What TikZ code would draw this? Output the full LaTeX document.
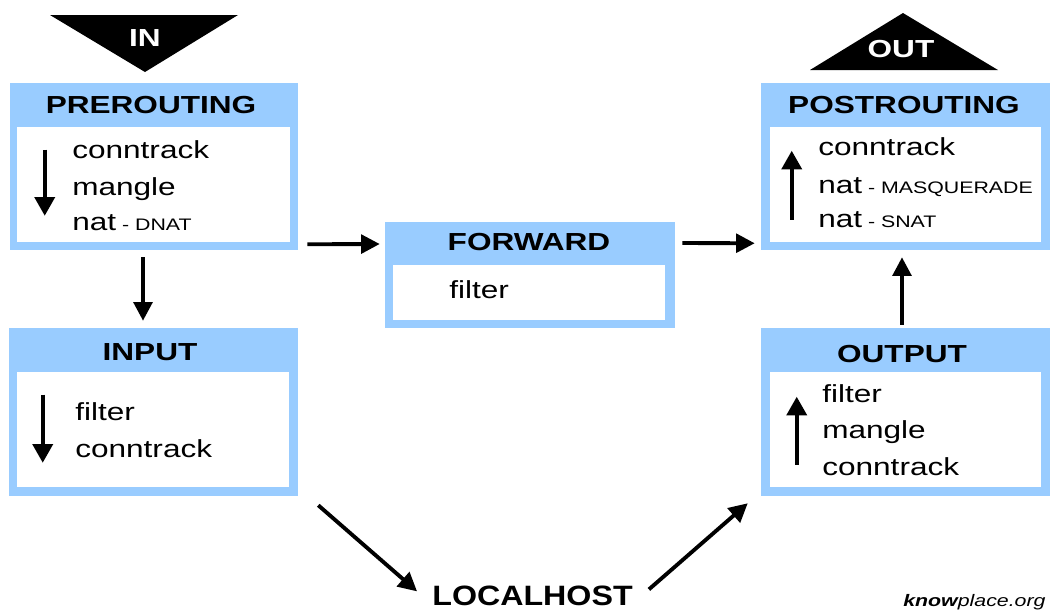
\documentclass[tikz,border=0pt]{standalone}
\usepackage{fontspec}
\setmainfont{Liberation Sans}[FakeStretch=1.28]
\newfontfamily\lhfont{Liberation Sans}[FakeStretch=1.15]
\usetikzlibrary{arrows.meta,fit,calc}
\definecolor{boxblue}{RGB}{153,204,255}
\newcommand\smtag[1]{{\fontsize{12.5}{14}\selectfont #1}}
\begin{document}
\begin{tikzpicture}[x=0.75pt,y=-0.75pt,
  outerbox/.style={fill=boxblue, inner sep=0pt, draw=none},
  innerbox/.style={fill=white, inner sep=0pt, draw=none},
  title/.style={anchor=base, inner sep=0pt, font=\bfseries\fontsize{18.5}{20}\selectfont},
  item/.style={anchor=base west, inner sep=0pt, font=\fontsize{18.5}{20}\selectfont},
  conn/.style={line width=2.9pt, -{Triangle[length=14pt,width=14pt]}},
  flowarr/.style={line width=2.8pt, -{Triangle[length=14pt,width=15pt]}},
  tri/.style={fill=black},
  trilabel/.style={text=white, inner sep=0pt, font=\bfseries\fontsize{18.5}{20}\selectfont},
]
\useasboundingbox[fill=white] (0,0) rectangle (1058,612);

% IN / OUT triangles
\fill[tri] (50,15) -- (238,15) -- (145,72) -- cycle;
\node[trilabel] (inlbl) at (145,38) {IN};
\fill[tri] (810,70) -- (998,70) -- (903,13) -- cycle;
\node[trilabel] (outlbl) at (901,49) {OUT};

% PREROUTING
\node[outerbox, fit={(10,83)(298,250)}] (pre) {};
\node[innerbox, fit={(17,127)(290,242)}] (preI) {};
\node[title] (preT) at (151,113) {PREROUTING};
\node[item] (pre1) at (72,158) {conntrack};
\node[item] (pre2) at (72,195) {mangle};
\node[item] (pre3) at (72,230) {nat\smtag{ - DNAT}};
\draw[flowarr] ($(preI.north west)+(28,23)$) coordinate (preA) -- ++(0,66) coordinate (preB);

% POSTROUTING
\node[outerbox, fit={(761,83)(1050,250)}] (post) {};
\node[innerbox, fit={(770,127)(1041,242)}] (postI) {};
\node[title] (postT) at (904,113) {POSTROUTING};
\node[item] (post1) at (818,155) {conntrack};
\node[item] (post2) at (818,193) {nat\smtag{ - MASQUERADE}};
\node[item] (post3) at (818,227) {nat\smtag{ - SNAT}};
\draw[flowarr] ($(postI.north west)+(22,93)$) coordinate (postA) -- ++(0,-69) coordinate (postB);

% FORWARD
\node[outerbox, fit={(385,222)(675,328)}] (fw) {};
\node[innerbox, fit={(393,265)(665,320)}] (fwI) {};
\node[title] (fwT) at (529,250) {FORWARD};
\node[item] (fw1) at (449,298) {filter};

% INPUT
\node[outerbox, fit={(9,328)(298,496)}] (inp) {};
\node[innerbox, fit={(17,372)(289,487)}] (inpI) {};
\node[title] (inpT) at (150,360) {INPUT};
\node[item] (inp1) at (75,420) {filter};
\node[item] (inp2) at (75,457) {conntrack};
\draw[flowarr] ($(inpI.north west)+(26,23)$) coordinate (inpA) -- ++(0,68) coordinate (inpB);

% OUTPUT
\node[outerbox, fit={(761,328)(1050,496)}] (out) {};
\node[innerbox, fit={(770,372)(1041,487)}] (outI) {};
\node[title] (outT) at (902,362) {OUTPUT};
\node[item] (out1) at (822,402) {filter};
\node[item] (out2) at (822,438) {mangle};
\node[item] (out3) at (822,475) {conntrack};
\draw[flowarr] ($(outI.north west)+(27,93)$) coordinate (outA) -- ++(0,-68) coordinate (outB);

% LOCALHOST
\node[inner sep=0pt, anchor=base, font=\lhfont\bfseries\fontsize{21}{24}\selectfont] (lh) at (532.5,605) {LOCALHOST};

% connectors
\draw[conn] ($(pre.south east)+(9,-6)$) -- ($(fw.west)+(-5,-31)$);
\draw[conn] ($(fw.east)+(7,-32)$) -- ($(post.south west)+(-6,-7)$);
\draw[conn] ($(pre.south)+(-11,7)$) -- ($(inp.north)+(-10.5,-7)$);
\draw[conn] ($(out.north)+(-3.5,-3)$) -- ($(post.south)+(-3.5,7)$);
\draw[conn] ($(inp.south east)+(20,9)$) -- ($(lh.west)+(-15,-4)$);
\draw[conn] ($(lh.east)+(16,-6)$) -- ($(out.south west)+(-13,7)$);

% watermark
\node[anchor=base west, inner sep=0pt, font=\itshape\fontsize{12.5}{14}\selectfont] (wm) at (903,606) {\textbf{know}place.org};
\end{tikzpicture}
\end{document}
